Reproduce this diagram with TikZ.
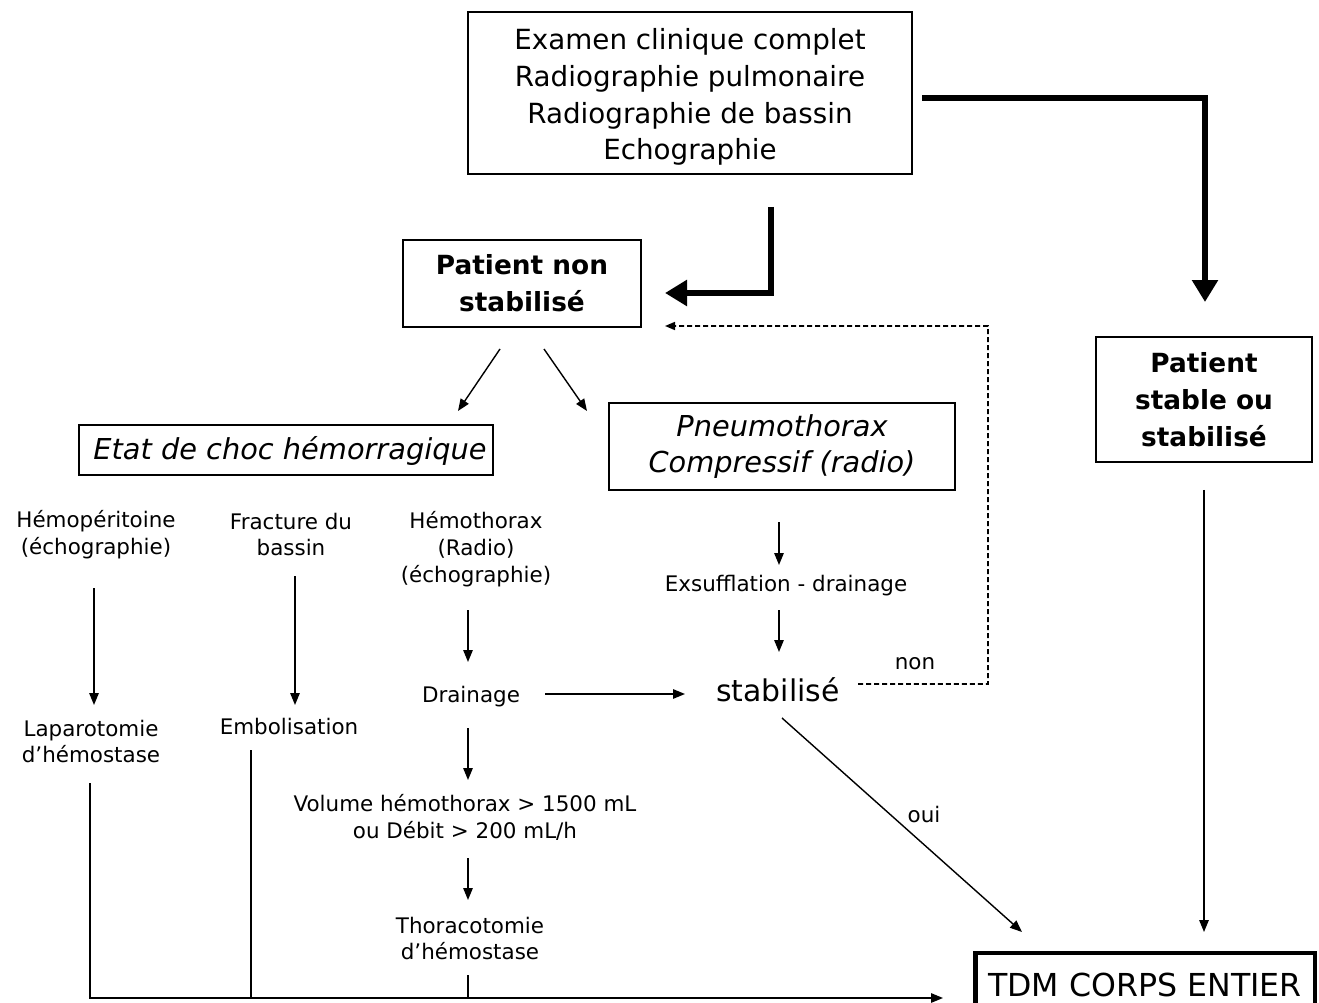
\documentclass[tikz,border=0pt]{standalone}
\usepackage{fontspec}
\setmainfont{DejaVu Sans}
\usetikzlibrary{calc,arrows.meta}
\begin{document}
\begin{tikzpicture}[x=0.02cm,y=-0.02cm,
  box/.style={draw, line width=0.85pt, align=center, inner sep=0pt},
  lbl/.style={align=center, inner sep=0pt},
  big/.style={font=\fontsize{15.8}{21}\selectfont},
  bigb/.style={font=\bfseries\fontsize{15}{21}\selectfont},
  bigi/.style={font=\itshape\fontsize{16.4}{20.5}\selectfont},
  stabfont/.style={font=\fontsize{17}{21}\selectfont},
  tdmfont/.style={font=\fontsize{18}{21}\selectfont},
  small/.style={font=\fontsize{12.2}{15.3}\selectfont},
  arr/.style={line width=0.8pt, -{Triangle[length=0.24cm,width=0.19cm]}},
  thick arr/.style={line width=3.4pt, -{Triangle[length=0.44cm,width=0.5cm]}},
  back arr/.style={line width=0.9pt, dash pattern=on 0.1cm off 0.06cm, -{Triangle[length=0.2cm,width=0.16cm]}},
  bus/.style={line width=0.8pt}]
\useasboundingbox (0,0) rectangle (1319,1003);
\clip (0,0) rectangle (1319,1003);

% boxes
\node[box, minimum width=8.88cm, minimum height=3.24cm] (top) at (690,93) {};
\node[lbl, big] (toptext) at (690,97)
  {Examen clinique complet\\Radiographie pulmonaire\\Radiographie de bassin\\Echographie};
\node[box, bigb, minimum width=4.76cm, minimum height=1.74cm] (pns) at (522,283.5)
  {Patient non\\stabilisé};
\node[box, minimum width=8.28cm, minimum height=1.0cm] (etat) at (286,450) {};
\node[lbl, bigi] (etattext) at (290,451) {Etat de choc hémorragique};
\node[box, bigi, minimum width=6.92cm, minimum height=1.74cm] (pneu) at (782,446.5)
  {Pneumothorax\\Compressif (radio)};
\node[box, bigb, minimum width=4.32cm, minimum height=2.5cm] (stable) at (1204,399.5)
  {Patient\\stable ou\\stabilisé};
\node[box, tdmfont, line width=2.8pt, minimum width=6.8cm, minimum height=1.28cm] (tdm) at (1145,985)
  {TDM CORPS ENTIER};

% free text steps
\node[lbl, small] (hemo) at (96,534.5) {Hémopéritoine\\(échographie)};
\node[lbl, small] (frac) at (291,534.5) {Fracture du\\bassin};
\node[lbl, small] (hthx) at (476,549) {Hémothorax\\(Radio)\\(échographie)};
\node[lbl, small] (exsu) at (786,586) {Exsufflation - drainage};
\node[lbl, stabfont] (stab) at (778,690) {stabilisé};
\node[lbl, small] (lapa) at (91,741.5) {Laparotomie\\d’hémostase};
\node[lbl, small] (embo) at (289,727) {Embolisation};
\node[lbl, small] (drain) at (471,697) {Drainage};
\node[lbl, small] (vol) at (465,817) {Volume hémothorax > 1500 mL\\ou Débit > 200 mL/h};
\node[lbl, small] (thora) at (470,938.5) {Thoracotomie\\d’hémostase};
\node[lbl, small] (oui) at (924,815) {oui};
\node[lbl, small] (non) at (915,664) {non};

% thick main branches
\draw[thick arr] ($(top)+(232,5)$) -| ($(stable)+(1,-97.5)$);
\draw[thick arr] ($(top)+(81,114)$) |- ($(pns)+(143,9.5)$);

% split of the unstable patient
\draw[arr] ($(pns)+(-22,65.5)$) -- ($(etat)+(172,-39)$);
\draw[arr] ($(pns)+(22,65.5)$) -- ($(pneu)+(-195,-35.5)$);

% vertical steps
\draw[arr] ($(hemo)+(-2,53.5)$) -- ($(lapa)+(3,-36.5)$);
\draw[arr] ($(frac)+(4,41.5)$) -- ($(embo)+(6,-22)$);
\draw[arr] ($(hthx)+(-8,61)$) -- ($(drain)+(-3,-35)$);
\draw[arr] ($(pneu)+(-3,75.5)$) -- ($(exsu)+(-7,-21)$);
\draw[arr] ($(exsu)+(-7,24)$) -- ($(stab)+(1,-38)$);
\draw[arr] ($(drain)+(74,-3)$) -- ($(stab)+(-93,4)$);
\draw[arr] ($(drain)+(-3,31)$) -- ($(vol)+(3,-37)$);
\draw[arr] ($(vol)+(3,41)$) -- ($(thora)+(-2,-38.5)$);

% towards the whole-body scan
\draw[arr] ($(stab)+(4,28)$) -- ($(tdm)+(-123,-53)$);
\draw[arr] ($(stable)+(0,90.5)$) -- ($(tdm)+(59,-53)$);

% not stabilised: back to the top
\coordinate (backcorner) at (988,326);
\draw[back arr] ($(stab)+(80,-6)$) -| (backcorner) -- ($(pns)+(143,42.5)$);

% bottom collector line
\coordinate (busstart) at ($(lapa)+(-1,41.5)$);
\coordinate (busend) at ($(tdm)+(-202,13)$);
\coordinate (embostart) at ($(embo)+(-38,23)$);
\coordinate (thorastart) at ($(thora)+(-2,36.5)$);
\draw[arr] (busstart) |- (busend);
\draw[bus] (embostart) -- (embostart |- busend);
\draw[bus] (thorastart) -- (thorastart |- busend);
\end{tikzpicture}
\end{document}
